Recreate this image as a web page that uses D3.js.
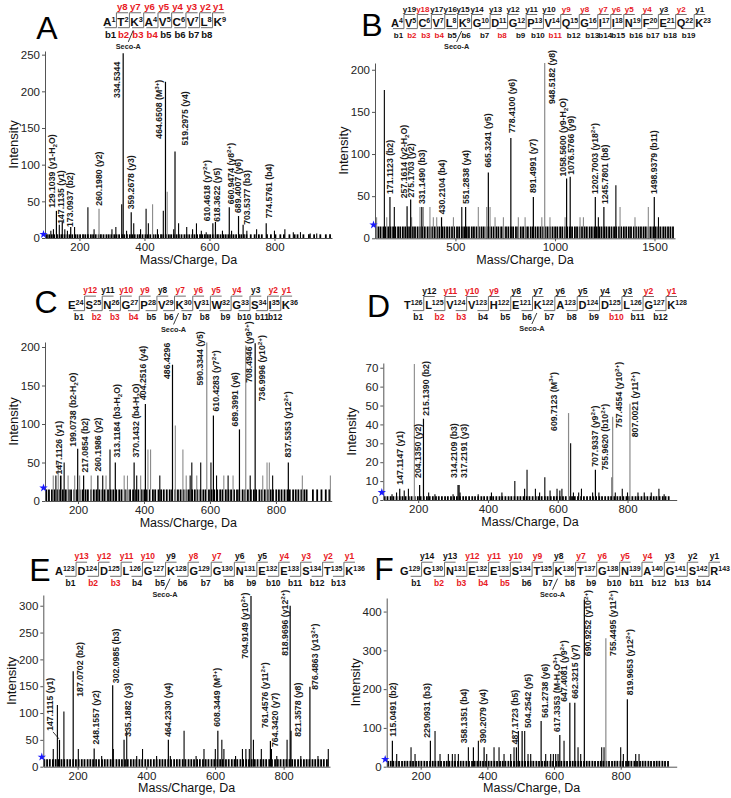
<!DOCTYPE html>
<html><head><meta charset="utf-8">
<script src="https://cdn.jsdelivr.net/npm/d3@7"></script>
<style>
body{margin:0;background:#fff;}
svg{display:block;font-family:"Liberation Sans",Arial,Helvetica,sans-serif;}
</style></head><body>
<svg id="c" width="731" height="798"></svg>
<script>
// ---------------- DATA ----------------
const panelLetters = ["A","B","C","D","E","F"];

const seqA = [["A",1],["T",2],["K",3],["A",4],["V",5],["C",6],["V",7],["L",8],["K",9]];
const seqB = [["A",4],["V",5],["C",6],["V",7],["L",8],["K",9],["G",10],["D",11],["G",12],["P",13],["V",14],["Q",15],["G",16],["I",17],["I",18],["N",19],["F",20],["E",21],["Q",22],["K",23]];
const seqC = [["E",24],["S",25],["N",26],["G",27],["P",28],["V",29],["K",30],["V",31],["W",32],["G",33],["S",34],["I",35],["K",36]];
const seqD = [["T",126],["L",125],["V",124],["V",123],["H",122],["E",121],["K",122],["A",123],["D",124],["D",125],["L",126],["G",127],["K",128]];
const seqE = [["A",123],["D",124],["D",125],["L",126],["G",127],["K",128],["G",129],["G",130],["N",131],["E",132],["E",133],["S",134],["T",135],["K",136]];
const seqF = [["G",129],["G",130],["N",131],["E",132],["E",133],["S",134],["T",135],["K",136],["T",137],["G",138],["N",139],["A",140],["G",141],["S",142],["R",143]];

const yIonA = ["y8","y7","y6","y5","y4","y3","y2","y1"];
const bIonA = ["b1","b2","b3","b4","b5","b6","b7","b8"];
const yObsA = [1,1,1,1,1,1,1,1];
const bObsA = [0,1,1,1,0,0,0,0];
const yIonB = ["y19","y18","y17","y16","y15","y14","y13","y12","y11","y10","y9","y8","y7","y6","y5","y4","y3","y2","y1"];
const bIonB = ["b1","b2","b3","b4","b5","b6","b7","b8","b9","b10","b11","b12","b13","b14","b15","b16","b17","b18","b19"];
const yObsB = [0,1,0,0,0,0,0,0,0,0,1,1,1,1,1,1,0,1,0];
const bObsB = [0,1,1,1,0,0,0,1,0,0,1,0,0,0,0,0,0,0,0];
const yIonC = ["y12","y11","y10","y9","y8","y7","y6","y5","y4","y3","y2","y1"];
const bIonC = ["b1","b2","b3","b4","b5","b6","b7","b8","b9","b10","b11","b12"];
const yObsC = [1,0,1,1,0,1,1,1,1,0,1,1];
const bObsC = [0,1,1,1,0,0,0,0,0,0,0,0];
const yIonD = ["y12","y11","y10","y9","y8","y7","y6","y5","y4","y3","y2","y1"];
const bIonD = ["b1","b2","b3","b4","b5","b6","b7","b8","b9","b10","b11","b12"];
const yObsD = [0,1,1,1,0,0,0,0,0,0,1,1];
const bObsD = [0,1,1,0,0,0,0,0,0,1,0,0];
const yIonE = ["y13","y12","y11","y10","y9","y8","y7","y6","y5","y4","y3","y2","y1"];
const bIonE = ["b1","b2","b3","b4","b5","b6","b7","b8","b9","b10","b11","b12","b13"];
const yObsE = [1,1,1,1,0,1,1,0,0,1,1,1,1];
const bObsE = [0,1,1,0,0,0,0,0,0,0,0,0,0];
const yIonF = ["y14","y13","y12","y11","y10","y9","y8","y7","y6","y5","y4","y3","y2","y1"];
const bIonF = ["b1","b2","b3","b4","b5","b6","b7","b8","b9","b10","b11","b12","b13","b14"];
const yObsF = [0,0,1,1,1,1,0,1,1,1,1,0,0,0];
const bObsF = [0,1,1,1,1,0,0,0,0,0,0,0,0,0];

// residue index carrying the Seco-A mark
const secoIdx = [2,5,6,6,5,7];

// labelled peaks: [m/z, intensity, label, kind]
const peaksA = [[129.1039,37,"129.1039 (y1-H_{2}O)"],[147.1135,22,"147.1135 (y1)"],[173.0937,15,"173.0937 (b2)"],[260.1980,40,"260.1980 (y2)","g"],[334.5344,252,"334.5344"],[359.2678,35,"359.2678 (y3)"],[464.6508,213,"464.6508 (M^{3+})"],[494,118,"519.2975 (y4)"],[610.4618,20,"610.4618 (y7^{2+})"],[618.3622,22,"618.3622 (y5)"],[660.9474,42,"660.9474 (y8^{2+})"],[689.4007,30,"689.4007 (y6)"],[703.5377,18,"703.5377 (b3)"],[774.5761,20,"774.5761 (b4)"]];
const peaksB = [[171.1123,49,"171.1123 (b2)"],[257.1614,38,"257.1614 (y2-H_{2}O)"],[275.1703,46,"275.1703 (y2)"],[331.1490,37,"331.1490 (b3)"],[430.2104,25,"430.2104 (b4)"],[551.2838,37,"551.2838 (y4)"],[665.3241,78,"665.3241 (y5)"],[778.4100,119,"778.4100 (y6)"],[891.4991,49,"891.4991 (y7)"],[948.5182,208,"948.5182 (y8)","g"],[1058.5600,71,"1058.5600 (y9-H_{2}O)"],[1076.5766,73,"1076.5766 (y9)"],[1202.7003,49,"1202.7003 (y18^{2+})"],[1245.7801,37,"1245.7801 (b8)"],[1498.9379,49,"1498.9379 (b11)"]];
const peaksC = [[147.1126,33,"147.1126 (y1)"],[199.0738,68,"199.0738 (b2-H_{2}O)"],[217.0854,33,"217.0854 (b2)"],[260.1986,33,"260.1986 (y2)"],[313.1184,50,"313.1184 (b3-H_{2}O)"],[370.1432,50,"370.1432 (b4-H_{2}O)"],[404.2516,126,"404.2516 (y4)"],[486.4296,177,"486.4296"],[590.3344,206,"590.3344 (y5)","g"],[610.4283,111,"610.4283 (y7^{2+})"],[689.3991,93,"689.3991 (y6)"],[708.4946,202,"708.4946 (y9^{2+})","g"],[736.9996,205,"736.9996 (y10^{2+})"],[837.5353,50,"837.5353 (y12^{2+})"]];
const peaksD = [[147.1147,6,"147.1147 (y1)"],[204.1350,8,"204.1350 (y2)"],[215.1390,43,"215.1390 (b2)"],[314.2109,8,"314.2109 (b3)"],[317.2191,8,"317.2191 (y3)"],[631,46,"609.7123 (M^{3+})","g"],[707.9337,16,"707.9337 (y9^{2+})"],[755.9620,12,"755.9620 (b10^{2+})"],[757.4554,44,"757.4554 (y10^{2+})","g"],[807.0021,51,"807.0021 (y11^{2+})","g"]];
const peaksE = [[147.1115,50,"147.1115 (y1)"],[187.0702,178,"187.0702 (b2)"],[248.1557,34,"248.1557 (y2)"],[302.0985,152,"302.0985 (b3)"],[335.1882,50,"335.1882 (y3)"],[464.2330,50,"464.2330 (y4)"],[608.3449,67,"608.3449 (M^{3+})"],[704.9149,318,"704.9149 (y10^{2+})"],[761.4576,48,"761.4576 (y11^{2+})"],[764.3420,33,"764.3420 (y7)"],[818.9696,300,"818.9696 (y12^{2+})"],[821.3578,67,"821.3578 (y8)"],[876.4863,149,"876.4863 (y13^{2+})"]];
const peaksF = [[115.0491,67,"115.0491 (b2)"],[229.0931,67,"229.0931 (b3)"],[358.1351,50,"358.1351 (b4)"],[390.2079,50,"390.2079 (y4)"],[487.1723,50,"487.1723 (b5)"],[504.2542,92,"504.2542 (y5)"],[561.2738,118,"561.2738 (y6)"],[617.3353,82,"617.3353 (M-H_{2}O^{3+})"],[647.4081,165,"647.4081 (y9^{2+})"],[662.3215,165,"662.3215 (y7)"],[690.9252,431,"690.9252 (y10^{2+})"],[755.4495,331,"755.4495 (y11^{2+})","g"],[819.9653,174,"819.9653 (y12^{2+})"]];

// unlabelled peaks: [m/z, intensity, kind]
const noiseA = [[112,10],[120,12],[138,18],[155,12],[163,10],[185,15],[226,42],[245,12],[300,12],[312,15],[330,46],[345,10],[367,20],[388,12],[405,40],[412,20],[425,46,"g"],[440,12],[458,37],[470,63,"g"],[490,12],[505,20],[530,15],[548,12],[560,20],[575,10],[590,8],[640,10],[668,10],[715,10],[745,12],[800,10],[832,12],[858,8],[880,8],[910,6],[930,6]];
const noiseB = [[104,25,"g"],[143,176],[155,25,"g"],[193,37],[280,25,"g"],[322,37,"g"],[339,37,"g"],[372,37,"g"],[389,25,"g"],[406,25,"g"],[490,25,"g"],[532,37],[615,37,"g"],[657,37,"g"],[674,37,"g"],[699,25,"g"],[741,25,"g"],[816,25,"g"],[850,25,"g"],[934,25,"g"],[975,25,"g"],[1051,25,"g"],[1126,25,"g"],[1143,25,"g"],[1218,25],[1306,63],[1327,37,"g"],[1402,25,"g"],[1469,37,"g"],[1520,25]];
const noiseC = [[125,33,"g"],[133,33],[140,50,"g"],[150,33,"g"],[158,50],[170,33,"g"],[190,33,"g"],[205,33,"g"],[240,33,"g"],[275,33],[285,33,"g"],[297,67],[340,33,"g"],[350,33,"g"],[378,33],[390,33,"g"],[412,67,"g"],[420,67,"g"],[448,33],[495,98,"g"],[518,67,"g"],[528,33,"g"],[540,33],[545,50],[560,33,"g"],[572,50],[603,50],[620,33],[642,33,"g"],[655,33],[670,33,"g"],[722,33],[760,33,"g"],[773,50,"g"],[780,50,"g"],[790,33],[880,33,"g"],[965,33,"g"]];
const noiseD = [[125,3],[138,4],[160,5],[172,6],[189,72,"g"],[230,4],[248,3],[300,3],[320,4],[372,3],[410,4],[440,4],[477,10],[505,6],[512,16],[536,6],[548,4],[563,12],[578,5],[598,6],[606,5],[612,6],[637,30],[645,4],[660,4],[668,6],[700,4],[718,4],[765,4],[785,6],[800,4],[830,4],[848,4],[868,4],[890,6],[905,3]];
const noiseE = [[129,33],[141,115],[160,103],[202,33],[270,20],[304,33],[343,67],[372,20],[389,33],[430,20],[470,20],[510,67],[545,20],[568,33],[601,33],[620,50],[626,33],[660,20],[680,33],[690,33],[700,33],[712,50],[735,33],[780,20],[810,50],[850,20],[900,20],[930,33]];
const noiseF = [[128,33],[171,50],[183,33],[243,92],[258,33],[283,33],[295,33],[303,33],[313,33],[343,50],[373,67],[398,33],[420,50],[435,50],[450,33],[470,33],[480,50],[493,92],[512,92],[522,33],[530,33],[575,33],[590,33],[598,33],[605,33],[612,33],[630,67],[672,50],[680,33],[743,50],[750,50],[800,50],[808,33],[845,33],[855,33]];

// baseline noise floor: m/z positions and their common intensity
const floorA = "100 107 115 122 131 139 146 154 163 170 178 187 194 202 211 218 226 235 242 250 259 266 274 283 290 298 307 314 322 331 338 346 355 362 370 379 386 394 403 410 418 427 434 442 451 458 466 475 482 490 499 506 514 523 530 538 547 554 562 571 578 586 595 602 610 619 626 634 643 650 658 667 674 682 691 698 706 714 727 739 752 761 777 789 803 818 829 846 862 871 889 906 922 941 958 971";
const floorB = "101 113 124 138 149 162 174 187 198 212 223 236 248 261 272 286 297 310 322 335 346 360 371 384 396 409 420 434 445 458 470 483 494 508 519 532 544 557 568 582 593 606 618 631 642 656 667 680 692 705 716 730 741 754 766 779 790 804 815 828 840 853 864 878 889 902 914 927 938 952 963 976 988 1001 1012 1026 1037 1050 1062 1075 1086 1100 1111 1124 1136 1149 1160 1174 1185 1198 1210 1223 1234 1248 1259 1272 1284 1297 1308 1322 1333 1346 1358 1371 1382 1396 1407 1420 1432 1445 1456 1470 1481 1494 1506 1519 1530 1544 1555 1568 1580 1593";
const floorC = "104 112 121 128 138 146 154 163 172 179 189 197 205 214 223 230 240 248 256 265 274 281 291 299 307 316 325 332 342 350 358 367 376 383 393 401 409 418 427 434 444 452 460 469 478 485 495 503 511 520 529 536 546 554 562 571 580 587 597 605 613 622 631 638 648 656 664 673 682 689 699 707 715 724 733 740 750 758 766 775 784 791 801 809 817 826 835 842 852 860 868 877 886 893 912 925 938 951 962";
const floorD = "104 112 121 129 138 147 155 164 173 181 190 199 207 216 225 233 242 251 259 268 277 285 294 303 311 320 329 337 346 355 363 372 381 389 398 407 415 424 433 441 450 459 467 476 485 493 502 511 519 528 537 545 554 563 571 580 589 597 606 615 623 632 641 649 658 667 675 684 693 701 710 719 727 736 745 753 762 771 779 788 797 805 814 823 831 840 849 857 866 875 883 892 901 909 918";
const floorE = "103 111 119 128 136 145 153 161 170 178 187 195 203 212 220 229 237 245 254 262 271 279 287 296 304 313 321 329 338 346 355 363 371 380 388 397 405 413 422 430 439 447 455 464 472 481 489 497 506 514 523 531 539 548 556 565 573 581 590 598 607 615 623 632 640 649 657 665 674 682 691 699 707 716 724 733 741 749 758 766 775 783 791 800 808 817 825 833 842 850 859 867 875 884 892 901 909 917 926";
const floorF = "102 110 118 127 135 144 152 160 169 177 186 194 202 211 219 228 236 244 253 261 270 278 286 295 303 312 320 328 337 345 354 362 370 379 387 396 404 412 421 429 438 446 454 463 471 480 488 496 505 513 522 530 538 547 555 564 572 580 589 597 606 614 622 631 639 648 656 664 673 681 690 698 706 715 723 732 740 748 757 765 774 782 790 799 807 816 824 832 841 849 858 866 874 883 891 900 908 916 925 933 942";
const floorH = [5,14,15,2,14,15];

// precursor marker intensity
const starH = [5,16,17,4,18,19];

// axis ticks
const xTicksA = [200,400,600,800], yTicksA = [0,50,100,150,200,250];
const xTicksB = [500,1000,1500],   yTicksB = [0,50,100,150,200];
const xTicksC = [200,400,600,800], yTicksC = [0,50,100,150,200];
const xTicksD = [200,400,600,800], yTicksD = [0,10,20,30,40,50,60,70];
const xTicksE = [200,400,600,800], yTicksE = [0,50,100,150,200,250,300];
const xTicksF = [200,400,600,800], yTicksF = [0,100,200,300,400];
const xDomA=[94,977], xDomB=[96,1603], xDomC=[100,969], xDomD=[100,941], xDomE=[100,935], xDomF=[98,968];
const yDomA=[0,255], yDomB=[0,208], yDomC=[0,206.5], yDomD=[0,72.5], yDomE=[0,320], yDomF=[0,435];

// ---------------- LAYOUT ----------------
// label nudges: [dx, dy, mode]; mode 'e' = top of label placed relative to bar top
const labA = [[-4.5,0],[-1.5,5],[-0.7,3],[0,0],[-6,8.5,"e"],[0,0],[-6.5,-2,"e"],[10,-3],[-6,1],[2,3],[2,0],[-1,0],[3.5,3],[3,-2]];
const labB = [[0,0],[-3.5,-5],[0,1],[0,0],[0,0],[0,0],[0,-2],[1,-2],[0,-1],[7,-13,"e"],[-4,1],[1,1],[0,0],[1,0],[0,0]];
const labC = [[-2,2],[-4.5,1],[1.5,0],[0,-1],[1.5,-2],[2,-2],[-2,-1],[-6,-22,"e"],[-7,-11,"e"],[3,-1],[-4,0],[3.5,-24,"e"],[7,-8,"e"],[0,-2]];
const labD = [[0,-1],[-1.5,-4],[2,0],[-4,-4],[5,-4],[-15,-41,"e"],[0,0],[-7,-4],[6,-55,"e"],[5,-32,"e"]];
const labE = [[-9.5,-6,"s","L"],[7,-29,"e"],[1.5,-1],[3,1],[4,0],[0,0],[-1,-1],[-6,-3.5,"e"],[-5,-10],[3.5,1],[-5,-16,"e"],[7,9],[5,6]];
const labF = [[1,-1],[-3.5,0],[-9,-1],[-1,-1],[-1.5,0],[5.5,0],[4,0],[-3,0],[-5.5,2],[0,-1],[4,-9.5,"e"],[7,-48,"e"],[3,-1]];

const panels = [
 {seq:seqA,yI:yIonA,bI:bIonA,yO:yObsA,bO:bObsA,peaks:peaksA,noise:noiseA,floor:floorA,lab:labA,xt:xTicksA,yt:yTicksA,xd:xDomA,yd:yDomA,
  xr:[45,332],yr:[238,51],hx0:103,hx1:226,rowY:26,hs:1.06,fi:9.6,letter:[47,38.5]},
 {seq:seqB,yI:yIonB,bI:bIonB,yO:yObsB,bO:bObsB,peaks:peaksB,noise:noiseB,floor:floorB,lab:labB,xt:xTicksB,yt:yTicksB,xd:xDomB,yd:yDomB,
  xr:[375,675],yr:[238.3,63],hx0:391,hx1:711,rowY:27,hs:1,fi:8,letter:[372,35.5]},
 {seq:seqC,yI:yIonC,bI:bIonC,yO:yObsC,bO:bObsC,peaks:peaksC,noise:noiseC,floor:floorC,lab:labC,xt:xTicksC,yt:yTicksC,xd:xDomC,yd:yDomC,
  xr:[45,331.7],yr:[501,342],hx0:68,hx1:298,rowY:309,hs:1.03,fi:8.3,letter:[46,312.5]},
 {seq:seqD,yI:yIonD,bI:bIonD,yO:yObsD,bO:bObsD,peaks:peaksD,noise:noiseD,floor:floorD,lab:labD,xt:xTicksD,yt:yTicksD,xd:xDomD,yd:yDomD,
  xr:[383.3,676.7],yr:[500,363],hx0:404,hx1:687,rowY:309,hs:1,fi:8.5,letter:[378.5,317]},
 {seq:seqE,yI:yIonE,bI:bIonE,yO:yObsE,bO:bObsE,peaks:peaksE,noise:noiseE,floor:floorE,lab:labE,xt:xTicksE,yt:yTicksE,xd:xDomE,yd:yDomE,
  xr:[43.3,330],yr:[766.7,595],hx0:55,hx1:365,rowY:574.7,hs:1,fi:8.5,letter:[40,580.5]},
 {seq:seqF,yI:yIonF,bI:bIonF,yO:yObsF,bO:bObsF,peaks:peaksF,noise:noiseF,floor:floorF,lab:labF,xt:xTicksF,yt:yTicksF,xd:xDomF,yd:yDomF,
  xr:[386.7,676.7],yr:[766.7,598],hx0:400,hx1:730,rowY:574.7,hs:1,fi:8.5,letter:[384,580]}
];

const RED = "#e8181e", AX = "#555", GREY = "#8a8a8a";
const svg = d3.select("#c");
svg.append("rect").attr("width",731).attr("height",798).attr("fill","#fff");

function rich(sel, str, fs){
  const re = /([\^_])\{([^}]*)\}/g; let last=0, m, shift=0;
  while((m = re.exec(str))){
    if(m.index>last){ sel.append("tspan").attr("dy",-shift).text(str.slice(last,m.index)); shift=0; }
    const s = m[1]==="^" ? -0.36*fs : 0.24*fs;
    sel.append("tspan").attr("dy",s-shift).attr("font-size",0.72*fs).text(m[2]);
    shift=s; last=re.lastIndex;
  }
  if(last<str.length) sel.append("tspan").attr("dy",-shift).text(str.slice(last));
}

function drawHeader(p, idx){
  const g = svg.append("g");
  const hs=p.hs, fL=11*hs, fN=7*hs, fI=p.fi;
  const items = p.seq.map(([l,n])=>{
    const t=g.append("text").attr("y",p.rowY).attr("font-weight","bold").attr("font-size",fL).attr("fill","#111");
    t.append("tspan").text(l);
    t.append("tspan").attr("font-size",fN).attr("dy",-4*hs).text(n);
    return {t, w:t.node().getComputedTextLength()};
  });
  const W=d3.sum(items,d=>d.w);
  const gap=Math.max(1,(p.hx1-p.hx0-W)/(items.length-1));
  let cx=p.hx0;
  items.forEach(d=>{d.x=cx; d.t.attr("x",cx); cx+=d.w+gap;});
  const L=11*hs, topY=p.rowY-12.5*hs, botY=p.rowY+1.6*hs;
  for(let i=0;i<items.length-1;i++){
    const bx=items[i+1].x-gap/2;
    g.append("path").attr("d",`M${bx-L},${botY}H${bx}V${topY}H${bx+L}`)
      .attr("fill","none").attr("stroke","#6e6e6e").attr("stroke-width",1);
    g.append("text").attr("x",bx+L/2).attr("y",p.rowY-15.5*hs).attr("text-anchor","middle")
      .attr("font-size",fI).attr("font-weight","bold").attr("fill",p.yO[i]?RED:"#111").text(p.yI[i]);
    g.append("text").attr("x",bx-L/2).attr("y",p.rowY+11*hs).attr("text-anchor","middle")
      .attr("font-size",fI).attr("font-weight","bold").attr("fill",p.bO[i]?RED:"#111").text(p.bI[i]);
  }
  const k=items[secoIdx[idx]], sx=k.x;
  g.append("line").attr("x1",sx+3).attr("y1",p.rowY+4*hs).attr("x2",sx-2).attr("y2",p.rowY+15*hs)
    .attr("stroke","#222").attr("stroke-width",0.9);
  g.append("text").attr("x",sx-2).attr("y",p.rowY+22*hs).attr("text-anchor","middle")
    .attr("font-size",7.3).attr("font-weight","bold").attr("fill","#222").text("Seco-A");
  svg.append("text").attr("x",p.letter[0]).attr("y",p.letter[1]).attr("text-anchor","middle")
    .attr("font-size",32).attr("fill","#000").text(panelLetters[idx]);
}

function drawPlot(p, idx){
  const g = svg.append("g");
  const x=d3.scaleLinear().domain(p.xd).range(p.xr);
  const y=d3.scaleLinear().domain(p.yd).range(p.yr);
  const fl = p.floor.split(" ").map(Number);
  const fh = floorH[idx];
  g.append("g").selectAll("line").data(fl).join("line")
    .attr("x1",d=>x(d)).attr("x2",d=>x(d)).attr("y1",y(0)).attr("y2",y(fh))
    .attr("stroke","#000").attr("stroke-width",1.8);
  g.append("g").selectAll("line").data(p.noise).join("line")
    .attr("x1",d=>x(d[0])).attr("x2",d=>x(d[0])).attr("y1",y(0)).attr("y2",d=>y(d[1]))
    .attr("stroke",d=>d[2]==="g"?GREY:"#000").attr("stroke-width",1.1);
  g.append("g").selectAll("line").data(p.peaks).join("line")
    .attr("x1",d=>x(d[0])).attr("x2",d=>x(d[0])).attr("y1",y(0)).attr("y2",d=>y(d[1]))
    .attr("stroke",d=>d[3]==="g"?GREY:"#000").attr("stroke-width",1.2);
  // axes
  const xa=g.append("g").attr("transform",`translate(0,${p.yr[0]})`)
    .call(d3.axisBottom(x).tickValues(p.xt).tickFormat(d3.format("d")).tickSize(3).tickSizeOuter(0).tickPadding(2));
  const ya=g.append("g").attr("transform",`translate(${p.xr[0]},0)`)
    .call(d3.axisLeft(y).tickValues(p.yt).tickFormat(d3.format("d")).tickSize(3).tickSizeOuter(0).tickPadding(2));
  [xa,ya].forEach(a=>{
    a.select(".domain").attr("stroke",AX);
    a.selectAll(".tick line").attr("stroke",AX);
    a.selectAll("text").attr("font-size",11.5).attr("fill","#222").attr("font-family",'"Liberation Sans",Arial,sans-serif');
  });
  // peak labels
  const fs=8.7;
  p.peaks.forEach((d,i)=>{
    const n=p.lab[i]||[0,0];
    const bx=x(d[0]), top=y(d[1]);
    const lx=bx+n[0]+0.35*fs;
    let t;
    if(n[2]==="e"){
      t=g.append("text").attr("transform",`translate(${lx},${top+n[1]}) rotate(-90)`).attr("text-anchor","end");
    } else {
      t=g.append("text").attr("transform",`translate(${lx},${top-3+n[1]}) rotate(-90)`).attr("text-anchor","start");
    }
    t.attr("font-size",fs).attr("font-weight","bold").attr("fill","#1a1a1a");
    rich(t,d[2],fs);
    if(n[3]==="L"){
      g.append("line").attr("x1",bx+n[0]+3).attr("y1",top-3+n[1]+1).attr("x2",bx-0.5).attr("y2",top-1)
        .attr("stroke","#111").attr("stroke-width",0.8);
    }
  });
  // precursor star
  g.append("path").attr("d",d3.symbol(d3.symbolStar,22)())
    .attr("transform",`translate(${p.xr[0]-1.5},${y(starH[idx])})`).attr("fill","#1a1aff");
  // axis titles
  g.append("text").attr("x",(p.xr[0]+p.xr[1])/2).attr("y",p.yr[0]+25.5).attr("text-anchor","middle")
    .attr("font-size",12.5).attr("fill","#111").text("Mass/Charge, Da");
  g.append("text").attr("transform",`translate(${p.xr[0]-27},${(p.yr[0]+p.yr[1])/2}) rotate(-90)`)
    .attr("text-anchor","middle").attr("font-size",13).attr("fill","#111").text("Intensity");
}

panels.forEach((p,i)=>{ drawHeader(p,i); drawPlot(p,i); });
</script></body></html>
